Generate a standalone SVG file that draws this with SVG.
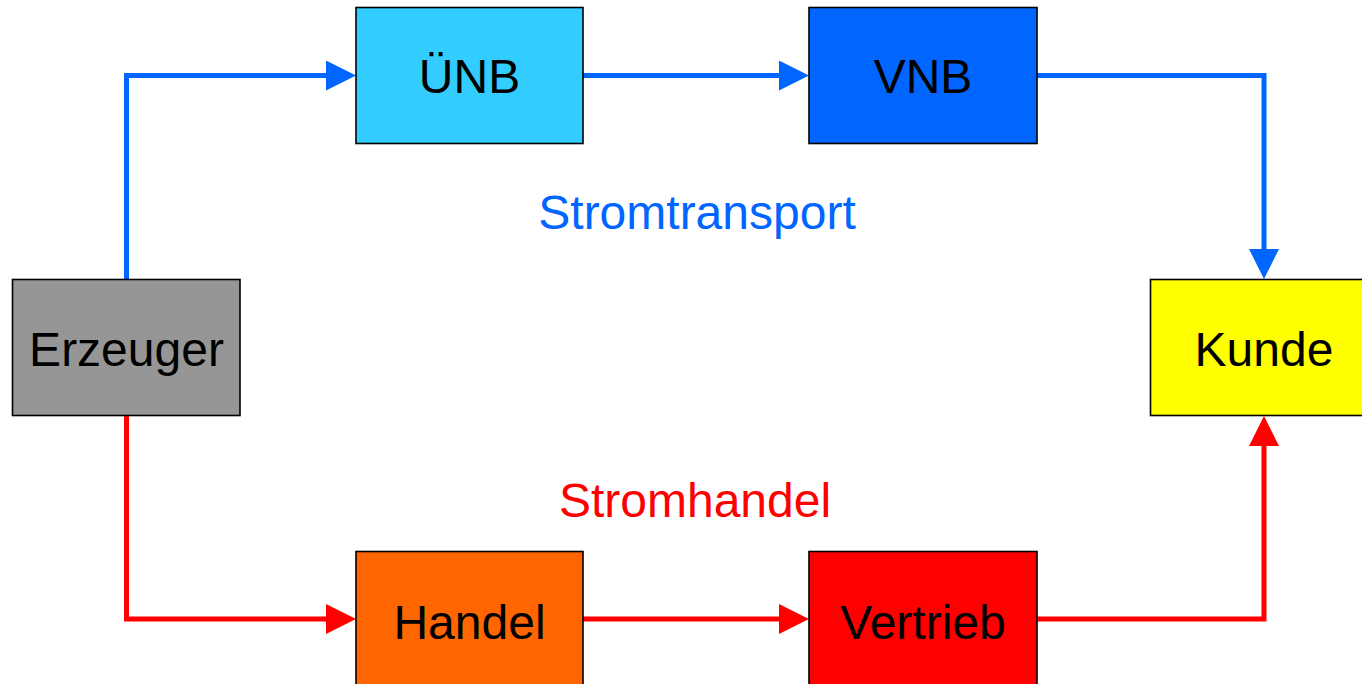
<svg xmlns="http://www.w3.org/2000/svg" width="1362" height="684" viewBox="0 0 1362 684">
<defs>
<style>
.box{stroke:#000;stroke-width:1.6}
.lbl{font-family:"Liberation Sans",Arial,sans-serif;font-size:48px;text-anchor:middle;fill:#000}
.cap{font-family:"Liberation Sans",Arial,sans-serif;font-size:48px;text-anchor:middle}
.blue{fill:none;stroke:#0066FF;stroke-width:5}
.red{fill:none;stroke:#FF0000;stroke-width:5}
</style>
<marker id="ab" markerUnits="userSpaceOnUse" markerWidth="31" markerHeight="30" refX="0" refY="15" orient="auto" viewBox="0 0 31 30"><path d="M0,0 L30,15 L0,30 z" fill="#0066FF"/></marker>
<marker id="ar" markerUnits="userSpaceOnUse" markerWidth="31" markerHeight="30" refX="0" refY="15" orient="auto" viewBox="0 0 31 30"><path d="M0,0 L30,15 L0,30 z" fill="#FF0000"/></marker>
</defs>
<rect width="1362" height="684" fill="#fff"/>
<g id="connectors">
<path class="blue" d="M126.5,279 V75.5 H326" marker-end="url(#ab)"/>
<path class="blue" d="M583,75.5 H779" marker-end="url(#ab)"/>
<path class="blue" d="M1037,75.5 H1264 V249" marker-end="url(#ab)"/>
<path class="red" d="M126.5,415 V619 H326" marker-end="url(#ar)"/>
<path class="red" d="M583,619 H779" marker-end="url(#ar)"/>
<path class="red" d="M1037,619 H1264 V446" marker-end="url(#ar)"/>
</g>
<g id="unb"><rect class="box" x="356" y="7.5" width="227" height="136" fill="#33CCFF"/><text class="lbl" x="469.5" y="93">ÜNB</text></g>
<g id="vnb"><rect class="box" x="809" y="7.5" width="228" height="136" fill="#0066FF"/><text class="lbl" x="923" y="93">VNB</text></g>
<g id="erzeuger"><rect class="box" x="12.5" y="279.5" width="227.5" height="136" fill="#969696"/><text class="lbl" x="126.5" y="366">Erzeuger</text></g>
<g id="kunde"><rect class="box" x="1150.5" y="279.5" width="228" height="136" fill="#FFFF00"/><text class="lbl" x="1264" y="366">Kunde</text></g>
<g id="handel"><rect class="box" x="356" y="551.5" width="227" height="136" fill="#FF6600"/><text class="lbl" x="469.5" y="639">Handel</text></g>
<g id="vertrieb"><rect class="box" x="809" y="551.5" width="228" height="136" fill="#FF0000"/><text class="lbl" x="923" y="639">Vertrieb</text></g>
<text class="cap" x="697" y="229" fill="#0066FF">Stromtransport</text>
<text class="cap" x="695" y="517" fill="#FF0000">Stromhandel</text>
</svg>
